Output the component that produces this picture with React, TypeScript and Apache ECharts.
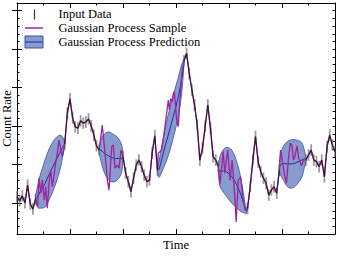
import React, { useEffect, useRef } from "react";
import * as echarts from "echarts";

// ---- Observed data (time, count rate) ----
const dataTime = [
  0, 0.05, 0.1, 0.15, 0.2, 0.25, 0.3, 0.35,
  0.9, 0.95, 1.0, 1.05, 1.1, 1.15, 1.2, 1.25, 1.3, 1.35, 1.4, 1.45, 1.5, 1.55,
  2.0, 2.05, 2.1, 2.15, 2.2, 2.25, 2.3, 2.35, 2.4, 2.45, 2.5, 2.55, 2.6, 2.65,
  3.15, 3.2, 3.25, 3.3, 3.35, 3.4, 3.45, 3.5, 3.55, 3.6, 3.65, 3.7, 3.75, 3.8,
  4.35, 4.4, 4.45, 4.5, 4.55, 4.6, 4.65, 4.7, 4.75, 4.8, 4.85, 4.9, 4.95,
  5.45, 5.5, 5.55, 5.6, 5.65, 5.7, 5.75, 5.8, 5.85, 5.9, 5.95, 6.0,
];
const dataRate = [
  11.6, 10.6, 11.9, 10.1, 14.7, 9.8, 8.5, 11.1,
  25.4, 33.4, 37.1, 32.1, 29.8, 29.5, 31.4, 30.8, 31.1, 31.9, 30.1, 27.7, 24.9, 23.8,
  22.1, 17.8, 15.6, 13.0, 16.5, 19.9, 21.2, 19.5, 17.3, 15.6, 16.0, 23.0, 27.5, 18.6,
  47.0, 48.9, 43.7, 39.4, 35.5, 30.3, 21.2, 24.3, 29.9, 35.5, 29.5, 22.1, 21.2, 19.5,
  8.7, 14.3, 21.2, 27.3, 20.7, 18.2, 16.5, 15.2, 12.1, 13.4, 14.3, 12.6, 18.6,
  21.2, 22.5, 23.8, 21.2, 20.8, 19.5, 21.2, 16.9, 24.7, 27.7, 25.1, 23.4,
];
const dataError = 1.5;

// ---- Gaussian process sample inside the gaps ----
const sampleTime = [
  0.391, 0.415, 0.453, 0.477, 0.515, 0.542, 0.572, 0.604, 0.636, 0.666, 0.704, 0.73, 0.76, 0.792, 0.825, 0.855,
  1.609, 1.66, 1.704, 1.736, 1.787, 1.817, 1.849, 1.892, 1.925, 1.962,
  2.666, 2.73, 2.792, 2.855, 2.874, 2.9, 2.93, 2.949, 2.968, 3.013, 3.043, 3.108,
  3.83, 3.89, 3.92, 3.975, 4.02, 4.06, 4.11, 4.135, 4.175, 4.22, 4.26, 4.31,
  4.972, 5.0, 5.047, 5.085, 5.119, 5.157, 5.189, 5.217, 5.251, 5.283, 5.315, 5.368, 5.406,
];
const sampleRate = [
  9.1, 16.5, 12.6, 16.0, 10.8, 14.3, 8.7, 15.2, 18.6, 14.3, 17.8, 20.4, 23.0, 26.4, 23.8, 22.1,
  30.3, 23.0, 16.0, 13.4, 24.7, 25.1, 19.1, 19.9, 19.1, 23.8,
  23.0, 23.8, 29.9, 36.8, 34.2, 37.2, 36.4, 38.5, 39.0, 31.6, 29.9, 43.7,
  15.0, 23.4, 17.8, 23.8, 16.0, 21.2, 11.6, 5.1, 16.0, 16.8, 11.6, 8.2,
  23.8, 21.7, 17.3, 15.2, 21.2, 25.6, 24.9, 21.2, 22.5, 24.9, 21.7, 19.7, 21.2,
];

// ---- Gaussian process prediction (mean and 2-sigma spread per gap) ----
const predictionTime = [
  [0.35, 0.396, 0.434, 0.528, 0.623, 0.717, 0.811, 0.858, 0.9],
  [1.55, 1.575, 1.628, 1.723, 1.817, 1.911, 1.975, 2.0],
  [2.65, 2.679, 2.736, 2.811, 2.887, 2.962, 3.038, 3.104, 3.132, 3.15],
  [3.8, 3.83, 3.892, 3.957, 4.051, 4.145, 4.226, 4.283, 4.321, 4.35],
  [4.95, 4.972, 5.019, 5.089, 5.183, 5.277, 5.372, 5.421, 5.45],
];
const predictionMean = [
  [11.1, 11.9, 12.9, 15.1, 18.0, 20.6, 23.2, 24.5, 25.4],
  [23.8, 23.8, 23.2, 22.3, 21.7, 21.6, 21.6, 22.1],
  [18.6, 18.8, 21.7, 25.6, 29.3, 33.2, 37.3, 42.0, 44.6, 47.0],
  [19.1, 18.2, 18.4, 18.1, 16.9, 14.8, 12.1, 9.6, 8.0, 8.7],
  [19.1, 19.9, 20.4, 20.2, 20.2, 20.6, 21.2, 21.5, 21.2],
];
const predictionSpread = [
  [0.5, 3.1, 4.2, 6.1, 6.6, 6.1, 4.5, 2.7, 0.5],
  [0.5, 2.3, 4.5, 6.2, 6.2, 5.3, 3.5, 0.5],
  [0.5, 2.1, 3.4, 4.9, 5.5, 5.5, 5.1, 3.9, 2.3, 0.5],
  [0.8, 3.9, 5.5, 6.4, 6.9, 6.0, 4.3, 2.1, 0.8, 0.3],
  [0.8, 2.6, 4.2, 5.7, 6.3, 5.8, 4.5, 2.3, 0.5],
];

// ---- Axes ----
const timeMin = 0;
const timeMax = 6;
const rateMin = 2;
const rateMax = 62;
const rateMajorTicks = [10, 20, 30, 40, 50, 60];
const legendLabels = ["Input Data", "Gaussian Process Sample", "Gaussian Process Prediction"];

const FONT = "'Liberation Serif', 'Times New Roman', serif";
const PURPLE = "#a0229f";
const BAND_FILL = "#889bcd";
const BAND_EDGE = "#3a4cae";
const MEAN = "#1d2b98";
const ERR = "rgba(90,90,90,0.6)";

function buildOption() {
  const samplePoints: number[][] = [];
  dataTime.forEach((t, i) => samplePoints.push([t, dataRate[i]]));
  sampleTime.forEach((t, i) => samplePoints.push([t, sampleRate[i]]));
  samplePoints.sort((a, b) => a[0] - b[0]);

  // split observed data into contiguous runs (no line across gaps)
  const runs: number[][][] = [];
  dataTime.forEach((t, i) => {
    const prev = i > 0 ? dataTime[i - 1] : -1;
    if (i === 0 || t - prev > 0.1) runs.push([]);
    runs[runs.length - 1].push([t, dataRate[i]]);
  });

  const tickLine = { color: "#000", width: 1 };
  const xBase = (position: string, name?: string) => ({
    type: "value",
    position,
    min: timeMin,
    max: timeMax,
    interval: 1,
    axisLine: { show: true, onZero: false, lineStyle: tickLine },
    axisTick: { show: true, inside: true, length: 5, lineStyle: tickLine },
    minorTick: { show: true, splitNumber: 2, length: 2.5, lineStyle: tickLine },
    axisLabel: { show: false },
    splitLine: { show: false },
    minorSplitLine: { show: false },
    name,
    nameLocation: "middle",
    nameGap: 4,
    nameTextStyle: { fontFamily: FONT, fontSize: 12.5, color: "#000", verticalAlign: "top" },
  });
  const yMinor = (position: string, name?: string) => ({
    type: "value",
    position,
    min: rateMin,
    max: rateMax,
    interval: 2,
    axisLine: { show: true, onZero: false, lineStyle: tickLine },
    axisTick: { show: true, inside: true, length: 2.5, lineStyle: tickLine },
    axisLabel: { show: false },
    splitLine: { show: false },
    name,
    nameLocation: "middle",
    nameRotate: 90,
    nameGap: 4,
    nameTextStyle: { fontFamily: FONT, fontSize: 12.5, color: "#000" },
  });
  const yMajor = (position: string) => ({
    type: "value",
    position,
    min: rateMin,
    max: rateMax,
    axisLine: { show: false },
    axisTick: { show: true, inside: true, length: 5, lineStyle: tickLine, customValues: rateMajorTicks },
    axisLabel: { show: false },
    splitLine: { show: false },
  });

  const meanSeries = predictionTime.map((ts, g) => ({
    type: "line",
    xAxisIndex: 0,
    yAxisIndex: 0,
    z: 3,
    showSymbol: false,
    symbol: "none",
    smooth: 0.3,
    lineStyle: { color: MEAN, width: 1 },
    data: ts.map((t, k) => [t, predictionMean[g][k]]),
    silent: true,
  }));

  const dataLineSeries = runs.map((run) => ({
    type: "line",
    xAxisIndex: 0,
    yAxisIndex: 0,
    z: 6,
    showSymbol: false,
    symbol: "none",
    lineStyle: { color: "rgba(25,5,25,0.7)", width: 1.2 },
    data: run,
    silent: true,
  }));

  return {
    animation: false,
    backgroundColor: "#fff",
    grid: { left: 17, right: 4, top: 3, bottom: 33, containLabel: false, outerBoundsMode: "none" },
    xAxis: [xBase("bottom", "Time"), xBase("top")],
    yAxis: [yMinor("left", "Count Rate"), yMajor("left"), yMinor("right"), yMajor("right")],
    series: [
      {
        type: "custom",
        xAxisIndex: 0,
        yAxisIndex: 0,
        z: 2,
        silent: true,
        data: predictionTime.map((_, i) => [i]),
        renderItem: (params: any, api: any) => {
          const g = params.dataIndex;
          const ts = predictionTime[g];
          const m = predictionMean[g];
          const s = predictionSpread[g];
          const upper = ts.map((t, k) => api.coord([t, m[k] + s[k]]));
          const lower = ts.map((t, k) => api.coord([t, m[k] - s[k]])).reverse();
          return {
            type: "polygon",
            shape: { points: upper.concat(lower), smooth: 0.35 },
            style: { fill: BAND_FILL, stroke: BAND_EDGE, lineWidth: 0.8 },
          };
        },
      },
      ...meanSeries,
      {
        type: "line",
        xAxisIndex: 0,
        yAxisIndex: 0,
        z: 4,
        showSymbol: false,
        symbol: "none",
        lineStyle: { color: PURPLE, width: 1.3 },
        data: samplePoints,
        silent: true,
      },
      {
        type: "custom",
        xAxisIndex: 0,
        yAxisIndex: 0,
        z: 5,
        silent: true,
        data: dataTime.map((t, i) => [t, dataRate[i]]),
        renderItem: (params: any, api: any) => {
          const t = api.value(0);
          const v = api.value(1);
          const p1 = api.coord([t, v - dataError]);
          const p2 = api.coord([t, v + dataError]);
          return {
            type: "line",
            shape: { x1: p1[0], y1: p1[1], x2: p2[0], y2: p2[1] },
            style: { stroke: ERR, lineWidth: 1.8 },
          };
        },
      },
      ...dataLineSeries,
    ],
    graphic: [
      { type: "line", shape: { x1: 34.5, y1: 9.5, x2: 34.5, y2: 19.5 }, style: { stroke: "#333", lineWidth: 1.2 } },
      { type: "line", shape: { x1: 25, y1: 28, x2: 43, y2: 28 }, style: { stroke: PURPLE, lineWidth: 1.5 } },
      { type: "rect", shape: { x: 25, y: 36, width: 18, height: 12 }, style: { fill: BAND_FILL, stroke: BAND_EDGE, lineWidth: 1 } },
      { type: "line", shape: { x1: 25, y1: 42, x2: 43, y2: 42 }, style: { stroke: MEAN, lineWidth: 1 } },
      ...legendLabels.map((label, i) => ({
        type: "text",
        x: 58.5,
        y: 14 + i * 14.2,
        style: { text: label, fontFamily: FONT, fontSize: 12.5, fill: "#000", verticalAlign: "middle", align: "left" },
      })),
    ],
  };
}

export default function App() {
  const ref = useRef<HTMLDivElement>(null);
  useEffect(() => {
    const chart = echarts.init(ref.current!, null, { renderer: "svg" });
    chart.setOption(buildOption() as any);
    return () => chart.dispose();
  }, []);
  return (
    <div
      ref={ref}
      style={{ position: "fixed", left: 0, top: 0, width: 339, height: 267, background: "#fff" }}
    />
  );
}
